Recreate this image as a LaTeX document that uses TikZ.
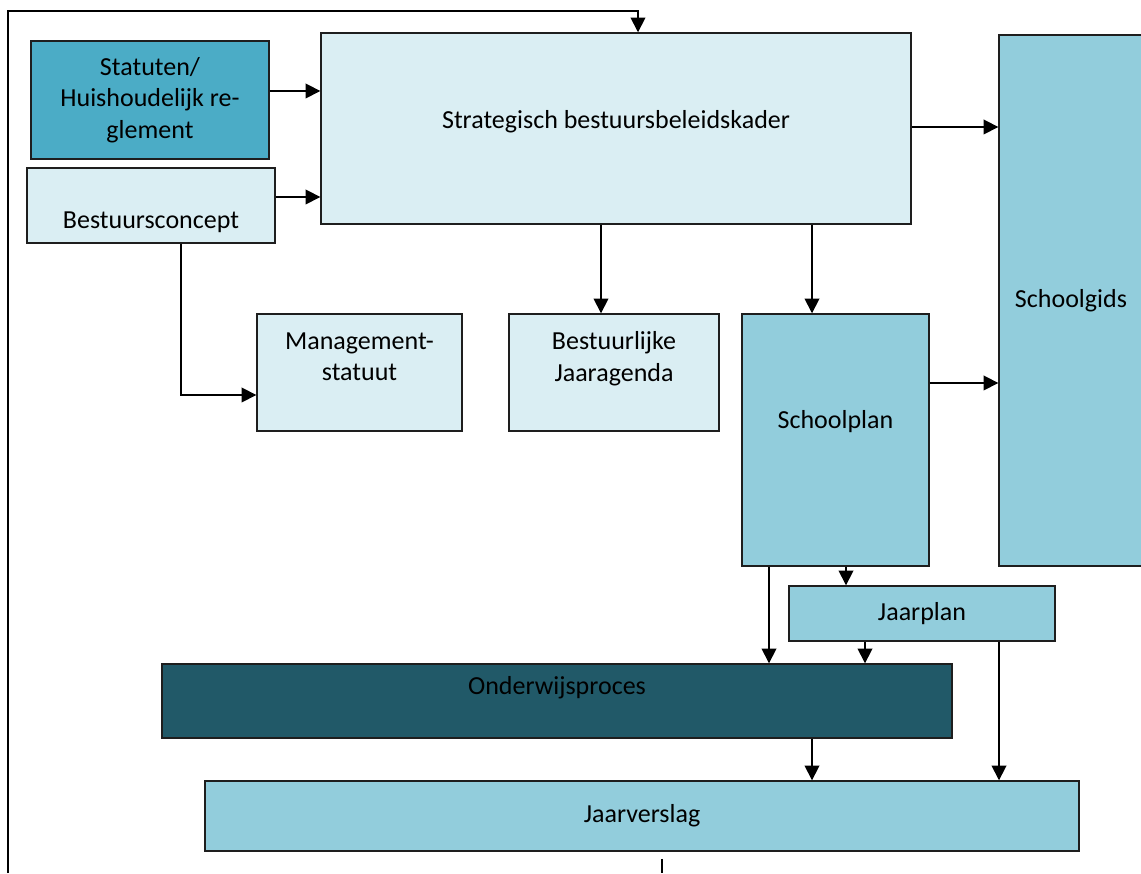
\documentclass[tikz,border=0pt]{standalone}
\usepackage{fontspec}
\setmainfont{Carlito}
\usetikzlibrary{arrows.meta}
\definecolor{lightblue}{RGB}{218,238,243}
\definecolor{midblue}{RGB}{146,205,220}
\definecolor{statblue}{RGB}{75,172,198}
\definecolor{darkteal}{RGB}{33,89,104}
\definecolor{bordergray}{RGB}{30,30,30}

\tikzset{
  box/.style={draw=bordergray, line width=1pt, inner sep=2pt, align=center,
    font=\fontsize{18.5}{22.6}\selectfont},
  arr/.style={line width=1.2pt, -{Triangle[length=10.5pt,width=10.5pt]}}
}

\begin{document}
\begin{tikzpicture}

% Page
\clip (0,0) rectangle (28.525,21.825);

% Top row
\node[box, fill=statblue, minimum width=5.95cm, minimum height=2.95cm] (stat) at (3.75,19.325) {Statuten/\\Huishoudelijk re-\\glement};
\node[box, fill=lightblue, minimum width=6.2cm, minimum height=1.875cm] (bc) at (3.775,16.6875) {\mbox{}\\[0.45cm]Bestuursconcept};
\node[box, fill=lightblue, minimum width=14.75cm, minimum height=4.775cm] (strat) at (15.4,18.6125) {Strategisch bestuursbeleidskader\\[-0.35cm]\mbox{}};
\node[box, fill=midblue, minimum width=3.6cm, minimum height=13.275cm] (gids) at (26.775,14.3125) {Schoolgids};

% Middle row
\node[box, fill=lightblue, minimum width=5.125cm, minimum height=2.925cm] (mgmt) at (8.9875,12.5125) {Management-\\statuut\\\mbox{}};
\node[box, fill=lightblue, minimum width=5.25cm, minimum height=2.925cm] (agenda) at (15.35,12.5125) {Bestuurlijke\\Jaaragenda\\\mbox{}};
\node[box, fill=midblue, minimum width=4.675cm, minimum height=6.3cm] (plan) at (20.8875,10.825) {Schoolplan\\[0.25cm]\mbox{}};

% Bottom rows
\node[box, fill=midblue, minimum width=6.65cm, minimum height=1.375cm] (jaarplan) at (23.05,6.4875) {Jaarplan};
\node[box, fill=darkteal, minimum width=19.75cm, minimum height=1.85cm] (proces) at (13.925,4.3) {Onderwijsproces\\\mbox{}};
\node[box, fill=midblue, minimum width=21.85cm, minimum height=1.75cm] (verslag) at (16.05,1.425) {Jaarverslag};

% Arrows
\draw[arr] (stat.east |- 0,19.55) -- (strat.west |- 0,19.55);
\draw[arr] (bc.east |- 0,16.9) -- (strat.west |- 0,16.9);
\draw[arr] (strat.east |- 0,18.65) -- (gids.west |- 0,18.65);
\draw[arr] (strat.south -| 15.025,0) -- (agenda.north -| 15.025,0);
\draw[arr] (strat.south -| 20.3,0) -- (plan.north -| 20.3,0);
\draw[arr] (bc.south -| 4.525,0) |- (mgmt.west |- 0,11.95);
\draw[arr] (plan.east |- 0,12.25) -- (gids.west |- 0,12.25);
\draw[arr] (plan.south -| 21.15,0) -- (jaarplan.north -| 21.15,0);
\draw[arr] (plan.south -| 19.225,0) -- (proces.north -| 19.225,0);
\draw[arr] (jaarplan.south -| 21.625,0) -- (proces.north -| 21.625,0);
\draw[arr] (jaarplan.south -| 24.975,0) -- (verslag.north -| 24.975,0);
\draw[arr] (proces.south -| 20.3,0) -- (verslag.north -| 20.3,0);

% Feedback loop
\coordinate (fb) at (0.2,0);
\coordinate (fbtop) at (15.95,21.55);
\coordinate (fbend) at (16.55,0);
\draw[arr] (fb) |- (fbtop) -- (strat.north -| fbtop);
\draw[line width=1.2pt] ([yshift=-0.18cm]verslag.south -| fbend) -- (fbend);

\end{tikzpicture}
\end{document}
